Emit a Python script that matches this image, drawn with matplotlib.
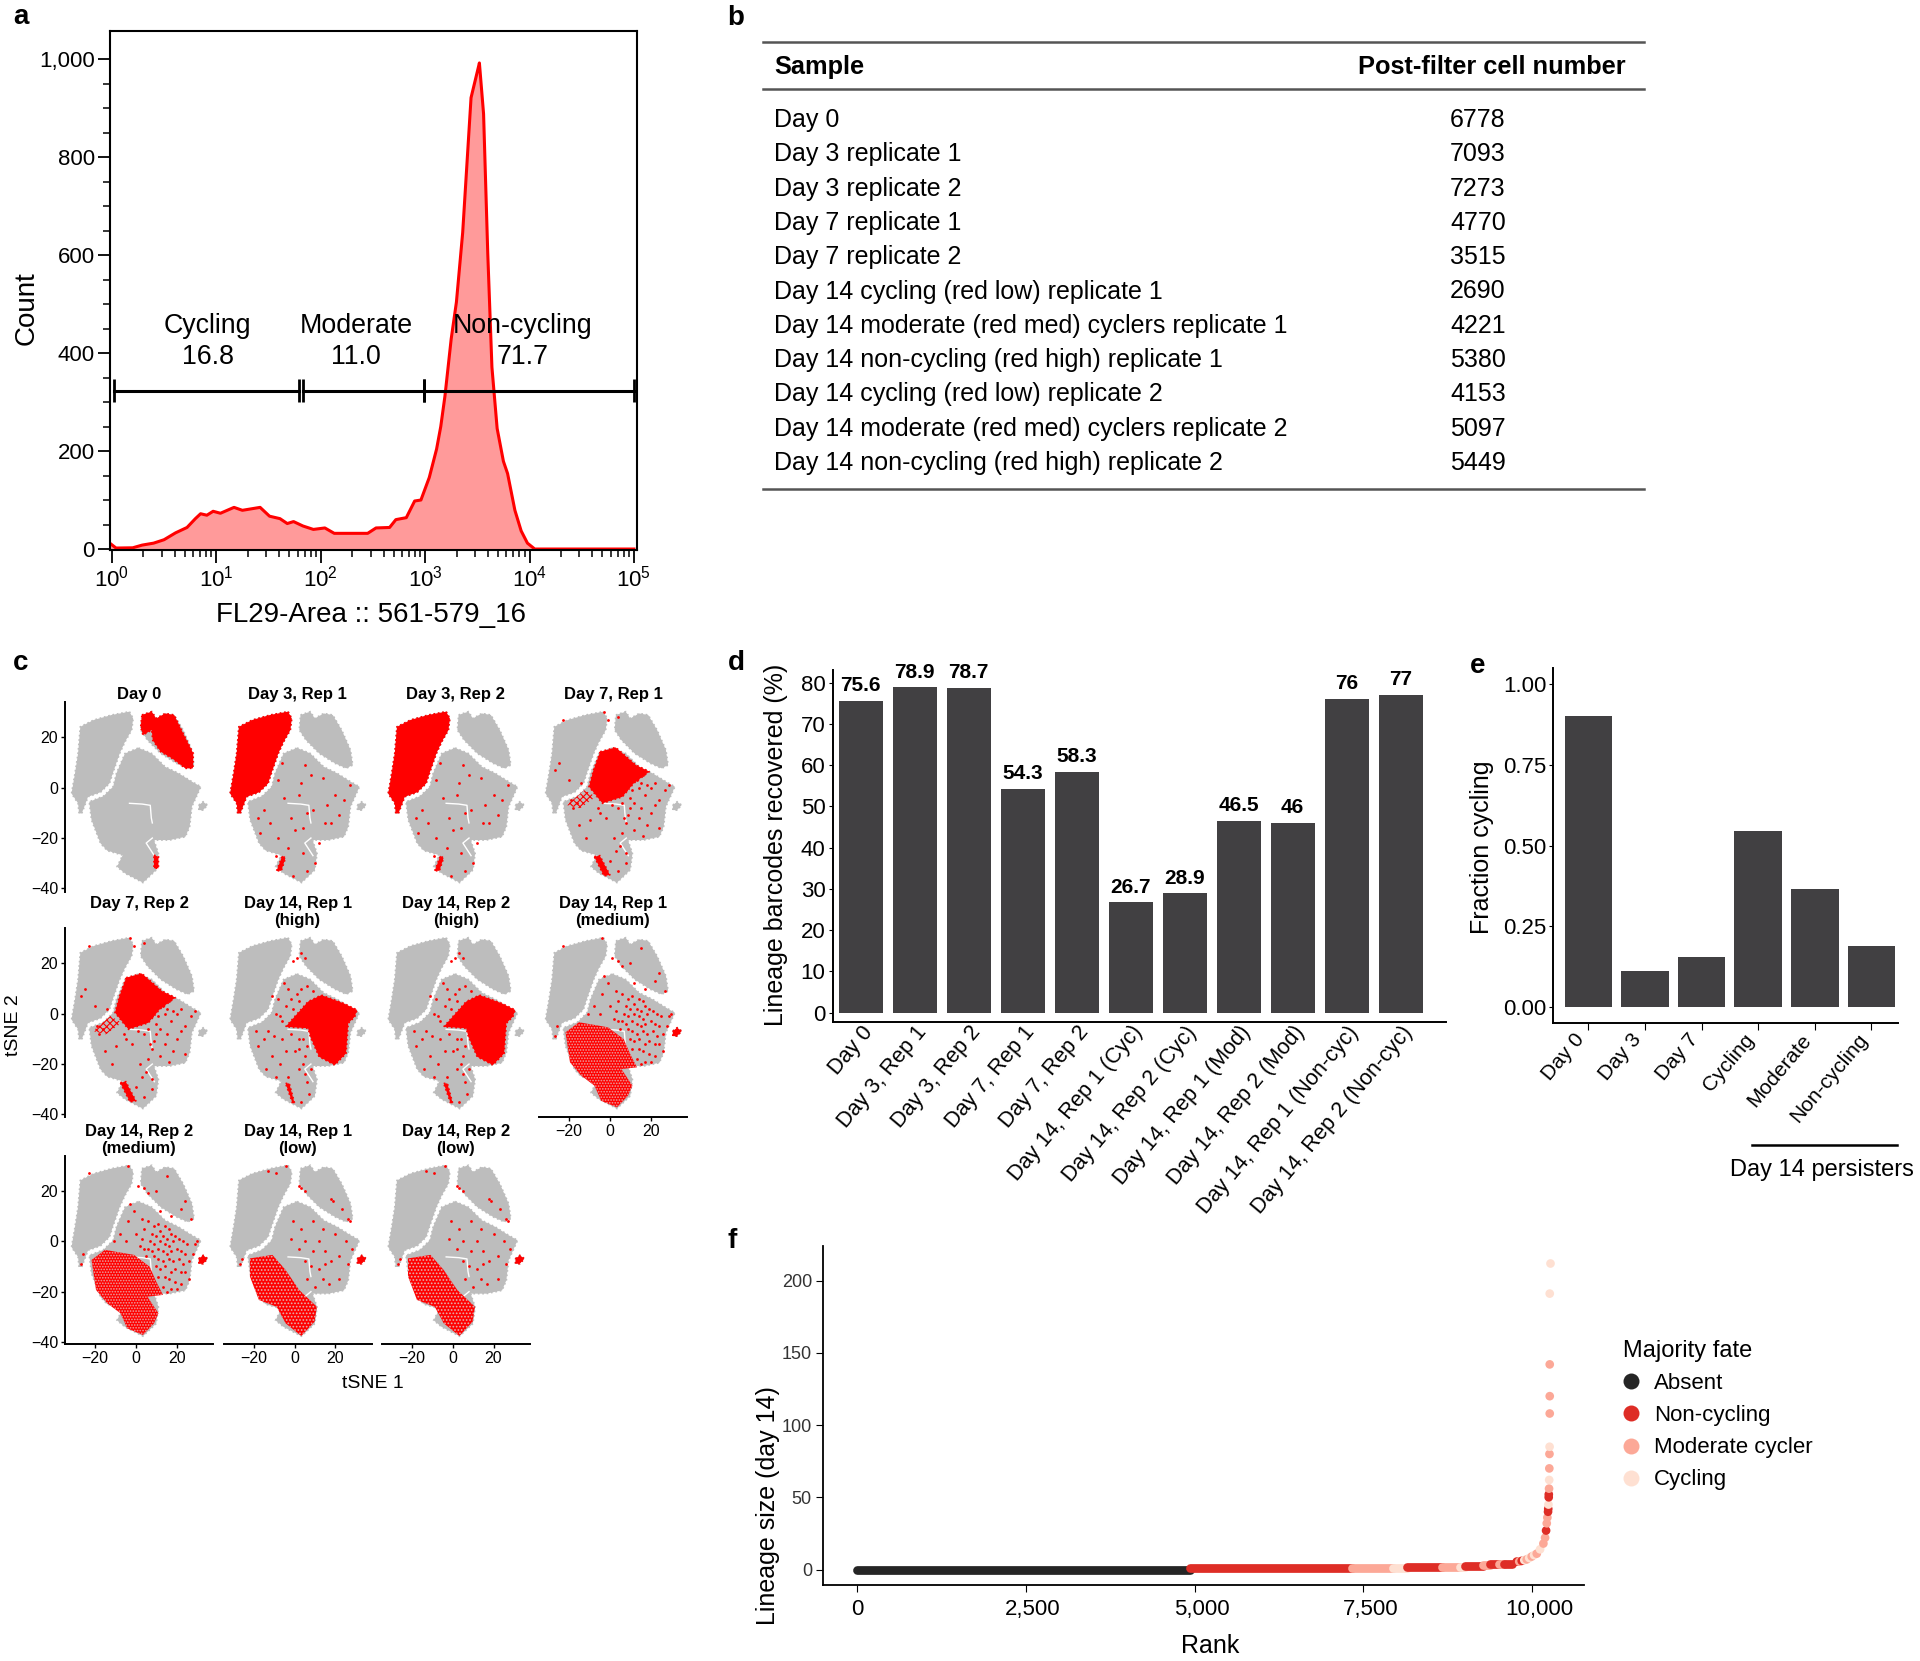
"""Multi-panel figure: flow histogram, sample table, tSNE grid, bar charts and lineage rank plot."""

import matplotlib

matplotlib.use("Agg")
import matplotlib.pyplot as plt
import numpy as np
from matplotlib.lines import Line2D
from matplotlib.patches import Polygon
from matplotlib.ticker import FixedLocator, FuncFormatter, NullFormatter
from matplotlib.transforms import ScaledTranslation

plt.rcParams["font.family"] = ["Liberation Sans", "DejaVu Sans"]
plt.rcParams["hatch.linewidth"] = 0.8

W, H = 1920, 1661
DARK = "#414042"
RED = "#ff0000"
GRAY = "#bdbdbd"

# panel a
hist_log_x = [-0.02, 0.04, 0.2, 0.29, 0.4, 0.5, 0.61, 0.72, 0.8, 0.85, 0.91, 0.97, 1.04, 1.17, 1.25,
              1.42, 1.51, 1.61, 1.68, 1.74, 1.83, 1.93, 2.04, 2.13, 2.45, 2.53, 2.66, 2.72, 2.82,
              2.9, 2.96, 3.04, 3.11, 3.15, 3.19, 3.25, 3.3, 3.36, 3.44, 3.51, 3.52, 3.56, 3.6,
              3.64, 3.69, 3.75, 3.79, 3.86, 3.92, 3.98, 4.05, 5.0]
hist_count = [12, 2, 2.5, 8, 12, 19, 33, 44, 62, 72, 69, 77, 73, 85, 79,
              85, 67, 62, 52, 56, 47, 40, 43, 32, 32, 43, 44, 60, 64,
              98, 100, 146, 204, 250, 312, 429, 504, 646, 921, 983, 992, 888, 604,
              371, 246, 179, 154, 79, 37, 12, 0, 0]
gate_names = ["Cycling", "Moderate", "Non-cycling"]
gate_values = ["16.8", "11.0", "71.7"]
gate_starts = [1.05, 68, 980]
gate_ends = [62, 980, 100000]
gate_label_x = [8.3, 219, 8500]

# panel b
table_samples = ["Day 0", "Day 3 replicate 1", "Day 3 replicate 2", "Day 7 replicate 1", "Day 7 replicate 2",
                 "Day 14 cycling (red low) replicate 1", "Day 14 moderate (red med) cyclers replicate 1",
                 "Day 14 non-cycling (red high) replicate 1", "Day 14 cycling (red low) replicate 2",
                 "Day 14 moderate (red med) cyclers replicate 2", "Day 14 non-cycling (red high) replicate 2"]
table_cells = [6778, 7093, 7273, 4770, 3515, 2690, 4221, 5380, 4153, 5097, 5449]

# panel c: outlines of the tSNE clouds, in tSNE units
cloud_left = [(-3.2, 30.2), (-1.4, 27.5), (-2.1, 22.9), (-5.4, 18.2), (-8, 13.6), (-11.4, 5.7), (-13, 1.7),
              (-17.4, -1.8), (-23.5, -3.6), (-26.6, -10.2), (-27.9, -10.2), (-28.4, -6.2), (-31.6, -2.3),
              (-29.9, 5.7), (-28.4, 13.6), (-27.3, 24.2), (-20.7, 26.9), (-11.9, 28.9)]
cloud_right = [(2.9, 28.9), (7.7, 30.2), (9.9, 27.5), (14.3, 29.5), (18.7, 28.9), (23.1, 22.9), (27.4, 15),
               (28.5, 9), (25.3, 7.7), (19.8, 9.7), (12.1, 13.6), (5.6, 18.9), (2.3, 22.9)]
cloud_center = [(1.2, 15.8), (7.7, 13.6), (14.3, 8.3), (20.9, 5.7), (27.4, 2.4), (31.8, 0.4), (29.6, -3.6),
                (27.4, -7.5), (26.3, -15.5), (24.2, -19.5), (16.5, -20.8), (8.8, -20.8), (11, -26.1),
                (9.9, -32.7), (3.4, -37.7), (-5.4, -34), (-9.3, -31.4), (-6.5, -26.8), (-14.1, -25),
                (-17.4, -22.1), (-21.8, -12.8), (-22.9, -5.6), (-16, -3.4), (-11.2, 0.4), (-9.6, 5.7), (-5.4, 13.6)]
cloud_small = [(30.8, -6.9), (32.9, -5.6), (35.1, -6.9), (32.9, -8.9), (30.8, -8.9)]
crack_a = [(-3.2, -6.2), (3, -6.5), (7, -7), (7.5, -12), (8, -14)]
crack_b = [(8, -20), (5, -22), (9, -27)]

red_day0 = [(2.9, 28.9), (7.7, 30.2), (9.9, 27.5), (14.3, 29.5), (18.7, 28.9), (23.1, 21.6), (28.1, 13.6),
            (27.9, 7.7), (24.2, 7.7), (17.6, 11.7), (12.1, 14.3), (8.2, 18.9), (7.7, 22.9), (3.4, 20.9), (2.3, 24.2)]
streak_day0 = [(8.8, -26.8), (11, -27.4), (11, -32), (8.8, -32)]
streak_day3 = [(-8.8, -33), (-6, -27), (-4.5, -28), (-6.5, -33)]
red_day7 = [(-4.8, 14.3), (2.8, 16), (12.7, 9), (19.3, 6.4), (11.6, 1.7), (6.1, -3.6), (-3.7, -6.2),
            (-10.3, 0.4), (-8.1, 7)]
tail_day7 = [(-21.2, -6.9), (-12.5, -0.9), (-7, -3.6), (-14.7, -8.2)]
streak_day7 = [(-7.7, -27.4), (-5, -27), (0, -34.7), (-3, -35)]
red_high = [(-4.4, -5.2), (6.6, 4.8), (13.1, 7.4), (24.1, 4.1), (30.6, 1.5), (29.5, -1.2), (26.3, -3.8),
            (25.2, -15.8), (19.7, -20.4), (12, -17.1), (7.7, -9.1), (6.6, -5.8)]
streak_high = [(-4.4, -27.7), (-2.6, -27.7), (0, -35.6), (-1, -35.6)]
red_medium = [(-21.8, -7.4), (-15.2, -3.4), (-1, -5.4), (6.7, -10.1), (9.9, -16), (13.2, -21.3), (5.6, -22),
              (11, -28.6), (8.8, -32.6), (3.4, -37.2), (-4.3, -34.6), (-7.6, -28.6), (-14.1, -24.6), (-19.6, -19.3)]
red_low = [(-21.9, -6.8), (-10.9, -5.4), (-4.4, -11.4), (2.2, -19.3), (10.9, -26), (9.8, -31.9), (3.3, -37.6),
           (-4.4, -32.6), (-8.8, -26), (-17.5, -23.3), (-21.9, -14)]

stray_day3 = [(-8, 3), (-5, -4), (2, -3), (8, 5), (5, 9), (14, 4), (20, -3), (27, 1), (24, -5), (-15, -9),
              (-12, -14), (-17, -18), (-8, -20), (-2, -12), (4, -16), (6, -10), (15, -14), (18, -14), (12, -22),
              (4, -26), (6, -33), (-3, -24), (0, -17), (-1, -35), (10, -30), (9, -9), (-18, -12), (22, -11),
              (-6, 10), (3, 2), (16, -7), (-9, -27)]
stray_day7 = [(-27, 7), (-25, 10), (-23, 27), (-3, 30), (-1, 27), (4, 28), (-14, 2), (-20, 3), (14, 0), (17, -3),
              (22, 2), (24, -5), (27, -1), (29, 1), (20, -10), (15, -8), (10, -8), (8, -14), (12, -17), (14, -12),
              (18, -15), (6, -18), (2, -20), (-5, -10), (-10, -13), (-15, -15), (-18, -8), (3, -25), (8, -26),
              (5, -23), (0, -29), (4, -33), (13, 3), (18, 1), (22, -7), (10, -4), (4, -8), (-2, -12), (-12, -20),
              (24, -16), (16, -19), (8, -30), (13, 6), (15, 2), (11, -1), (8, -1), (16, 5), (20, 0), (6, -6),
              (12, -6), (9, -11), (7, -12), (-6, -8), (1, -7), (-19, -5), (-16, -6)]
stray_high = [(3, 24), (1, 22), (5, 22), (-1, 21), (-5, 12), (-8, 6), (-3, 10), (-9, 0), (-13, -7), (-15, -10),
              (-18, -13), (-11, -17), (-6, -10), (-2, -8), (-1, 2), (2, 5), (-4, 3), (3, 10), (6, 11), (0, -3),
              (2, -14), (5, -17), (-7, -20), (-3, -25), (2, -22), (6, -27), (5, -24), (8, -22), (-14, -22),
              (-9, -25), (0, -15), (4, -10), (-11, 7), (-6, -3), (9, 9), (-19, -7), (7, -32), (3, -35),
              (1, 8), (-2, 6), (4, 2), (-7, -1), (2, -10), (6, -13), (4, -20), (-4, -15), (-10, -9)]
stray_medium = [(-23, 27), (-4, 30), (1, 22), (4, 21), (6, 19), (10, 20), (24, 16), (17, 10), (27, 9), (-1, 12),
                (-4, 8), (3, 9), (-8, 3), (-5, 0), (0, 3), (-11, 0), (29, -1), (30, 0), (28, -5), (26, -15),
                (-27, -9), (-26, -5), (-3, 15), (12, 12), (22, 13), (15, 26), (3, 1),
                (9, 6), (11, 7), (14, 6), (16, 5), (12, 4), (8, 3), (10, 2), (13, 2), (15, 1), (17, 3), (19, 2),
                (7, 0), (9, -1), (12, 0), (14, -1), (16, -2), (18, 0), (21, 1), (23, 0), (25, -1), (6, -3),
                (8, -4), (11, -3), (13, -4), (15, -5), (17, -4), (20, -3), (22, -4), (24, -5), (5, -6),
                (9, -6), (11, -7), (13, -8), (16, -7), (18, -8), (21, -7), (23, -9), (26, -8), (10, -10),
                (12, -11), (14, -10), (17, -12), (19, -11), (22, -12), (24, -12), (11, -14), (14, -14), (16, -15),
                (19, -16), (22, -17), (13, -18), (17, -19), (20, -19), (15, -20), (4, 5), (6, 8), (2, -2), (4, -3)]
stray_low = [(-13, 28), (-4, 30), (-9, 27), (3, 21), (2, 22), (5, 20), (18, 17), (19, 16), (23, 13), (26, 9),
             (27, 8), (-1, 8), (3, 5), (9, 8), (14, 5), (20, 3), (25, 0), (12, 0), (5, 0), (9, -4), (15, -4),
             (22, -6), (18, -8), (26, -9), (12, -11), (8, -10), (14, -15), (6, -15), (17, -17), (10, -18),
             (5, -8), (2, -3), (-2, 1), (22, -15), (28, -3), (-27, -9), (-26, -7), (15, -9)]

panel_titles = ["Day 0", "Day 3, Rep 1", "Day 3, Rep 2", "Day 7, Rep 1",
                "Day 7, Rep 2\n ", "Day 14, Rep 1\n(high)", "Day 14, Rep 2\n(high)", "Day 14, Rep 1\n(medium)",
                "Day 14, Rep 2\n(medium)", "Day 14, Rep 1\n(low)", "Day 14, Rep 2\n(low)"]
panel_kinds = ["day0", "day3", "day3", "day7", "day7", "high", "high", "medium", "medium", "low", "low"]

# panel d
recovered_labels = ["Day 0", "Day 3, Rep 1", "Day 3, Rep 2", "Day 7, Rep 1", "Day 7, Rep 2",
                    "Day 14, Rep 1 (Cyc)", "Day 14, Rep 2 (Cyc)", "Day 14, Rep 1 (Mod)", "Day 14, Rep 2 (Mod)",
                    "Day 14, Rep 1 (Non-cyc)", "Day 14, Rep 2 (Non-cyc)"]
recovered_values = [75.6, 78.9, 78.7, 54.3, 58.3, 26.7, 28.9, 46.5, 46, 76, 77]

# panel e
fraction_labels = ["Day 0", "Day 3", "Day 7", "Cycling", "Moderate", "Non-cycling"]
fraction_values = [0.90, 0.11, 0.155, 0.545, 0.365, 0.19]

# panel f
fate_colors = {"Absent": "#252525", "Non-cycling": "#de2d26", "Moderate cycler": "#fca897", "Cycling": "#fee0d2"}
run_start = [0, 4930, 7327, 7945, 8143, 8660, 8930, 9005, 9270, 9370, 9510, 9590]
run_end = [4930, 7327, 7945, 8143, 8660, 8930, 9005, 9270, 9370, 9510, 9590, 9700]
run_size = [0, 1, 1, 1, 2, 2, 2, 2.5, 3, 3.5, 3.5, 4]
run_fate = ["Absent", "Non-cycling", "Moderate cycler", "Cycling", "Non-cycling", "Moderate cycler", "Cycling",
            "Non-cycling", "Moderate cycler", "Non-cycling", "Moderate cycler", "Non-cycling"]
top_rank = [9773, 9810, 9847, 9885, 9921, 9958, 9995, 10030, 10070, 10119, 10168, 10193, 10208, 10218, 10227,
            10237, 10240, 10243, 10247, 10248, 10252, 10254, 10256, 10258, 10260, 10262, 10262, 10262, 10262]
top_size = [5.5, 5.5, 6, 6.5, 7, 8, 9, 10, 11, 14, 18, 22, 27, 32, 36,
            40, 42, 45, 50, 52, 56, 62, 70, 80, 85, 108, 120, 142, 191]
top_fate = ["Non-cycling", "Moderate cycler", "Non-cycling", "Cycling", "Moderate cycler", "Cycling", "Moderate cycler",
            "Cycling", "Moderate cycler", "Cycling", "Moderate cycler", "Moderate cycler", "Non-cycling", "Moderate cycler",
            "Moderate cycler", "Non-cycling", "Non-cycling", "Cycling", "Non-cycling", "Non-cycling", "Moderate cycler",
            "Cycling", "Moderate cycler", "Moderate cycler", "Cycling", "Moderate cycler", "Moderate cycler",
            "Moderate cycler", "Cycling"]
last_rank = [10262]
last_size = [212]


def axes_px(fig, left, top, right, bottom):
    return fig.add_axes([left / W, 1 - bottom / H, (right - left) / W, (bottom - top) / H])


def draw_hist(fig, over):
    ax = axes_px(fig, 110, 30.6, 637, 550)
    x = 10 ** np.array(hist_log_x)
    ax.fill_between(x, hist_count, -2, color="#ff9a9a", lw=0)
    ax.plot(x, hist_count, color=RED, lw=2.2)
    ax.set_xscale("log")
    ax.set_xlim(0.96, 107000)
    ax.set_ylim(-2, 1058)
    for name, value, start, end, label_x in zip(gate_names, gate_values, gate_starts, gate_ends, gate_label_x):
        ax.plot([start, end], [323, 323], color="black", lw=2.2)
        ax.vlines([start, end], 300, 346, color="black", lw=2)
        ax.text(label_x, 456, name, ha="center", va="center", fontsize=19.3)
        ax.text(label_x, 392, value, ha="center", va="center", fontsize=19.3)
    ax.set_yticks([0, 200, 400, 600, 800, 1000])
    ax.yaxis.set_major_formatter(FuncFormatter(lambda v, _: f"{int(v):,}"))
    ax.yaxis.set_minor_locator(FixedLocator(list(range(50, 1050, 50))))
    ax.tick_params(axis="both", which="major", labelsize=16, length=9, width=1.3, pad=2)
    ax.tick_params(axis="both", which="minor", length=5, width=1.1)
    ax.xaxis.set_minor_formatter(NullFormatter())
    for spine in ax.spines.values():
        spine.set_linewidth(1.5)
    over.text(371, 615, "FL29-Area :: 561-579_16", fontsize=20, ha="center", va="center")
    over.text(27, 308, "Count", fontsize=20, rotation=90, ha="center", va="center")


def draw_table(over):
    for y, lw in [(42, 1.8), (89, 1.8), (489, 1.8)]:
        over.plot([763, 1644], [y, y], color="#555555", lw=lw)
    over.text(774, 67, "Sample", fontsize=18.3, fontweight="bold", va="center")
    over.text(1626, 67, "Post-filter cell number", fontsize=18.3, fontweight="bold", va="center", ha="right")
    for row, (sample, cells) in enumerate(zip(table_samples, table_cells)):
        y = 120 + row * 34.3
        over.text(774, y, sample, fontsize=18, va="center")
        over.text(1478, y, str(cells), fontsize=18, va="center", ha="center")


def add_red(ax, outline, hatch=None, face=RED, edge=RED):
    ax.add_patch(Polygon(outline, closed=True, facecolor=face, edgecolor=edge, hatch=hatch,
                         lw=1.2 if hatch is None else 0, ls=":" if hatch is None else "-", zorder=3))


def add_stray(ax, points):
    ax.scatter([p[0] for p in points], [p[1] for p in points], s=4, color=RED, linewidths=0, zorder=4)


def draw_tsne(ax, kind):
    for outline in (cloud_left, cloud_right, cloud_center, cloud_small):
        ax.add_patch(Polygon(outline, closed=True, facecolor=GRAY, edgecolor=GRAY, lw=1.2, ls=":", zorder=1))
    for crack in (crack_a, crack_b):
        ax.plot([p[0] for p in crack], [p[1] for p in crack], color="white", lw=1.0, zorder=2)
    if kind == "day0":
        add_red(ax, red_day0)
        add_red(ax, streak_day0)
    elif kind == "day3":
        add_red(ax, cloud_left)
        add_red(ax, streak_day3)
        add_stray(ax, stray_day3)
    elif kind == "day7":
        add_red(ax, red_day7)
        add_red(ax, tail_day7, hatch="xxxxx", face=GRAY)
        add_red(ax, streak_day7)
        add_stray(ax, stray_day7)
    elif kind == "high":
        add_red(ax, red_high)
        add_red(ax, streak_high)
        add_stray(ax, stray_high)
    elif kind == "medium":
        add_red(ax, red_medium, hatch="......", edge="#e9a3a3")
        add_red(ax, cloud_small)
        add_stray(ax, stray_medium)
    elif kind == "low":
        add_red(ax, red_low, hatch=".....", edge="#e3b0b0")
        add_red(ax, cloud_small)
        add_stray(ax, stray_low)


def draw_tsne_grid(fig, over):
    col_zero = [136, 294.6, 452.7, 610]
    row_spec = [(702, 891.7, 787.7), (927.7, 1116.7, 1013.7), (1155.7, 1344.3, 1241.3)]
    title_pad = [1, -3, -2]
    for idx, (title, kind) in enumerate(zip(panel_titles, panel_kinds)):
        row, col = divmod(idx, 4)
        top, bottom, zero_y = row_spec[row]
        zero_x = col_zero[col]
        ax = axes_px(fig, zero_x - 71, top, zero_x + 77, bottom)
        ax.set_xlim(-71 / 2.04, 77 / 2.04)
        ax.set_ylim((zero_y - bottom) / 2.517, (zero_y - top) / 2.517)
        draw_tsne(ax, kind)
        ax.set_title(title, fontsize=12, fontweight="bold", pad=title_pad[row], linespacing=1.16)
        ax.spines[["top", "right"]].set_visible(False)
        ax.spines["left"].set_visible(col == 0)
        show_x = row == 2 or (row == 1 and col == 3)
        ax.spines["bottom"].set_visible(show_x)
        ax.spines["left"].set_linewidth(1.4)
        ax.spines["bottom"].set_linewidth(1.4)
        ax.set_yticks([-40, -20, 0, 20] if col == 0 else [])
        ax.set_xticks([-20, 0, 20] if show_x else [])
        ax.tick_params(labelsize=11.5, length=3, width=1, pad=2)
    over.text(373, 1383, "tSNE 1", fontsize=14, ha="center", va="center")
    over.text(13, 1025, "tSNE 2", fontsize=14, ha="center", va="center", rotation=90)


def draw_bars(ax, labels, values, width, size, valign):
    ax.bar(range(len(values)), values, width=width, color=DARK)
    ax.set_xticks(range(len(labels)))
    ax.set_xticklabels(labels, rotation=50, ha="right", va=valign, rotation_mode="anchor", fontsize=size)
    ax.spines[["top", "right"]].set_visible(False)
    ax.spines["left"].set_linewidth(1.4)
    ax.spines["bottom"].set_linewidth(1.4)


def draw_recovered(fig, over):
    ax = axes_px(fig, 832.5, 670, 1445.5, 1022)
    draw_bars(ax, recovered_labels, recovered_values, 0.82, 15.6, "top")
    ax.set_xlim(-0.524, 10.83)
    ax.set_ylim(-2.3, 83.1)
    ax.set_yticks(range(0, 81, 10))
    ax.tick_params(axis="y", labelsize=16, length=3, pad=2)
    ax.tick_params(axis="x", length=0, pad=0)
    for i, value in enumerate(recovered_values):
        ax.text(i, value + 1.4, f"{value:g}", ha="center", va="bottom", fontsize=15, fontweight="bold")
    over.text(776, 845, "Lineage barcodes recovered (%)", fontsize=18, rotation=90, ha="center", va="center")


def draw_fraction(fig, over):
    ax = axes_px(fig, 1553.4, 668, 1898, 1023)
    draw_bars(ax, fraction_labels, fraction_values, 0.84, 15, "bottom")
    ax.set_xlim(-0.62, 5.47)
    ax.set_ylim(-0.0495, 1.0495)
    ax.set_yticks([0, 0.25, 0.5, 0.75, 1.0])
    ax.set_yticklabels(["0.00", "0.25", "0.50", "0.75", "1.00"])
    ax.tick_params(axis="y", labelsize=16, length=3, pad=2)
    ax.tick_params(axis="x", length=5, pad=9)
    over.text(1482, 847, "Fraction cycling", fontsize=18, rotation=90, ha="center", va="center")
    over.plot([1751.6, 1897], [1144.6, 1144.6], color="black", lw=1.8)
    over.text(1822, 1170, "Day 14 persisters", fontsize=17, ha="center", va="center")


def draw_rank(fig, over):
    ax = axes_px(fig, 823, 1246.5, 1584, 1585)
    for start, end, size, fate in zip(run_start, run_end, run_size, run_fate):
        ax.plot([start, end], [size, size], color=fate_colors[fate], lw=6.3, solid_capstyle="round", zorder=2)
    ax.scatter(top_rank, top_size, c=[fate_colors[f] for f in top_fate], s=39, linewidths=0, zorder=3)
    ax.scatter(last_rank, last_size, c=fate_colors["Cycling"], s=39, linewidths=0, zorder=3)
    ax.set_xlim(-510, 10770)
    ax.set_ylim(-10.7, 223.6)
    ax.set_xticks([0, 2500, 5000, 7500, 10000])
    ax.xaxis.set_major_formatter(FuncFormatter(lambda v, _: f"{int(v):,}"))
    ax.set_yticks([0, 50, 100, 150, 200])
    ax.tick_params(axis="x", labelsize=16, length=5, pad=5)
    ax.tick_params(axis="y", labelsize=13, length=5, pad=3, labelcolor="#333333")
    # the comma-separated labels sit a little right of their ticks
    for label in ax.get_xticklabels()[1:]:
        label.set_transform(label.get_transform() + ScaledTranslation(0.07, 0, fig.dpi_scale_trans))
    ax.spines[["top", "right"]].set_visible(False)
    ax.spines["left"].set_linewidth(1.3)
    ax.spines["bottom"].set_linewidth(1.3)
    over.text(1210, 1646, "Rank", fontsize=18, ha="center", va="center")
    over.text(768, 1506, "Lineage size (day 14)", fontsize=18, rotation=90, ha="center", va="center")
    handles = [Line2D([], [], marker="o", ls="", ms=11.5, mfc=color, mec="none", label=name)
               for name, color in fate_colors.items()]
    fig.legend(handles=handles, title="Majority fate", fontsize=16, title_fontsize=17, frameon=False,
               loc="upper left", bbox_to_anchor=(1603 / W, 1 - 1320 / H), alignment="left",
               labelspacing=0.5, handlelength=0.75, handletextpad=0.65, borderpad=0.4)


def main():
    fig = plt.figure(figsize=(W / 100, H / 100), dpi=100)
    over = fig.add_axes([0, 0, 1, 1], zorder=10)
    over.set_xlim(0, W)
    over.set_ylim(H, 0)
    over.axis("off")

    draw_hist(fig, over)
    draw_table(over)
    draw_tsne_grid(fig, over)
    draw_recovered(fig, over)
    draw_fraction(fig, over)
    draw_rank(fig, over)

    for letter, x, y in [("a", 21, 17), ("b", 736, 18), ("c", 21, 663), ("d", 736, 663), ("e", 1478, 666), ("f", 732, 1241)]:
        over.text(x, y, letter, fontsize=20, fontweight="bold", ha="center", va="center")

    fig.savefig("out.png", dpi=100, facecolor="white")


if __name__ == "__main__":
    main()
